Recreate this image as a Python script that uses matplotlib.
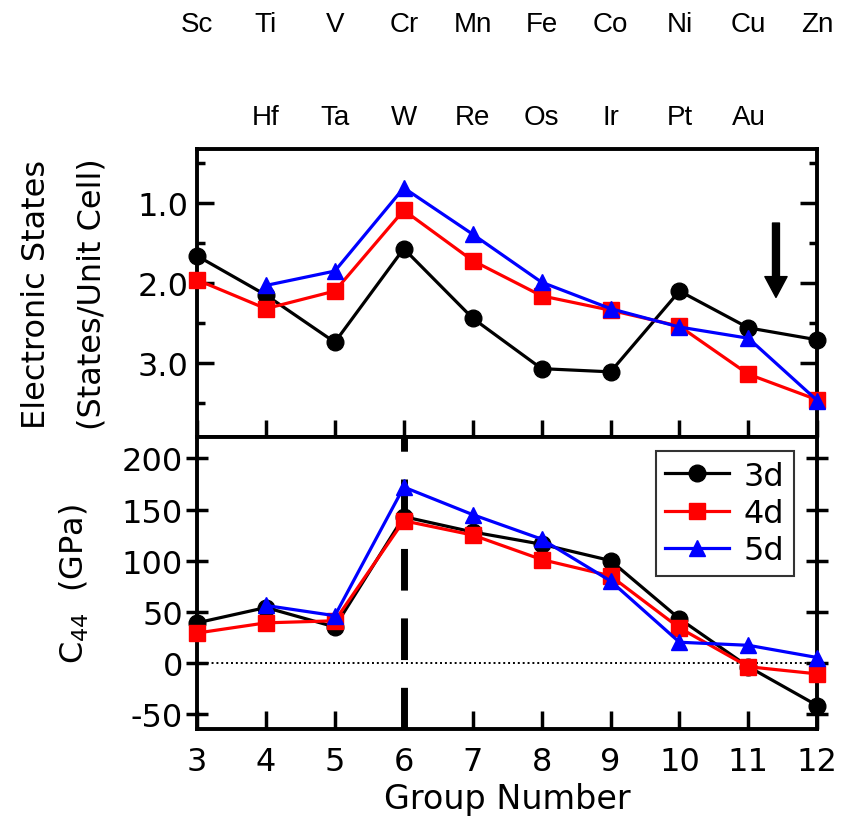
import matplotlib
matplotlib.use("Agg")
import matplotlib.pyplot as plt

plt.rcParams['font.family'] = ['DejaVu Sans']
plt.rcParams['axes.unicode_minus'] = False

groups = [3, 4, 5, 6, 7, 8, 9, 10, 11, 12]
elem_3d = ['Sc', 'Ti', 'V', 'Cr', 'Mn', 'Fe', 'Co', 'Ni', 'Cu', 'Zn']
groups_5d = [4, 5, 6, 7, 8, 9, 10, 11, 12]
elem_5d_labels = ['Hf', 'Ta', 'W', 'Re', 'Os', 'Ir', 'Pt', 'Au']
groups_5d_labels = [4, 5, 6, 7, 8, 9, 10, 11]

# Electronic states (States/Unit Cell)
es_3d = [1.66, 2.15, 2.74, 1.57, 2.44, 3.07, 3.11, 2.10, 2.56, 2.71]
es_4d = [1.96, 2.32, 2.10, 1.09, 1.72, 2.16, 2.34, 2.54, 3.14, 3.46]
es_5d = [2.03, 1.85, 0.81, 1.39, 1.99, 2.32, 2.55, 2.69, 3.47]

# C44 (GPa)
c44_3d = [39, 54, 35, 143, 128, 116, 100, 43, -4, -42]
c44_4d = [29, 39, 41, 139, 125, 101, 85, 34, -4, -11]
c44_5d = [56, 46, 172, 145, 121, 80, 20, 17, 5]

fig = plt.figure(figsize=(8.44, 8.29), dpi=100)
ax1 = fig.add_axes([0.2334, 0.4716, 0.735, 0.3474])
ax2 = fig.add_axes([0.2334, 0.1194, 0.735, 0.3522])

lw = 2.3
ms = 12
style = dict(lw=lw, ms=ms, clip_on=False, zorder=3)
ax1.plot(groups, es_3d, color='black', marker='o', **style)
ax1.plot(groups, es_4d, color='red', marker='s', **style)
ax1.plot(groups_5d, es_5d, color='blue', marker='^', **style)

ax2.plot(groups, c44_3d, color='black', marker='o', label='3d', **style)
ax2.plot(groups, c44_4d, color='red', marker='s', label='4d', **style)
ax2.plot(groups_5d, c44_5d, color='blue', marker='^', label='5d', **style)

ax2.axhline(0, color='black', lw=1.4, ls=(0, (1, 1.5)), zorder=1)
ax2.axvline(6, color='black', lw=5, ls=(0, (6, 4)), zorder=2)

# top panel
ax1.set_xlim(3, 12)
ax1.set_ylim(3.925, 0.325)
ax1.set_yticks([1.0, 2.0, 3.0])
ax1.set_yticklabels(['1.0', '2.0', '3.0'])
ax1.set_yticks([0.5, 1.5, 2.5, 3.5], minor=True)
ax1.set_xticks(groups)
ax1.tick_params(axis='x', which='both', bottom=True, top=False, labelbottom=False,
                direction='in', length=12, width=2.5)
ax1.tick_params(axis='y', which='major', left=True, right=True, direction='in',
                length=12, width=2.5, labelsize=23, pad=6)
ax1.tick_params(axis='y', which='minor', left=True, right=True, direction='in',
                length=6, width=2.5)
ax1.set_ylabel('Electronic States\n(States/Unit Cell)', fontsize=23, labelpad=22,
               linespacing=2.0)
ax1.annotate('', xy=(11.4, 2.18), xytext=(11.4, 1.25),
             arrowprops=dict(width=5, headwidth=16, headlength=15,
                             facecolor='black', edgecolor='black'))

# bottom panel
ax2.set_xlim(3, 12)
ax2.set_ylim(-65, 221)
ax2.set_yticks([-50, 0, 50, 100, 150, 200])
ax2.set_xticks(groups)
ax2.tick_params(axis='x', which='both', bottom=True, top=False, direction='in',
                length=13, width=2.5, labelsize=23, pad=12)
ax2.tick_params(axis='y', which='both', left=True, right=True, direction='inout',
                length=16, width=2.5, labelsize=23, pad=2)
ax2.set_ylabel('C$_{44}$  (GPa)', fontsize=23, labelpad=22)
ax2.set_xlabel('Group Number', fontsize=24, labelpad=4)

for ax in (ax1, ax2):
    for sp in ax.spines.values():
        sp.set_linewidth(2.8)

leg = ax2.legend(loc='upper right', bbox_to_anchor=(0.962, 0.952), fontsize=23,
                 frameon=True, fancybox=False, edgecolor='black',
                 handlelength=2.0, borderpad=0.3, labelspacing=0.2,
                 handletextpad=0.45, borderaxespad=0.0)
leg.get_frame().set_linewidth(1.5)

# element labels
for g, e in zip(groups, elem_3d):
    x = ax1.transData.transform((g, 0))[0]
    xf = fig.transFigure.inverted().transform((x, 0))[0]
    fig.text(xf, 1 - 25 / 829, e, ha='center', va='center', fontsize=20,
             family='Liberation Sans')
for g, e in zip(groups_5d_labels, elem_5d_labels):
    x = ax1.transData.transform((g, 0))[0]
    xf = fig.transFigure.inverted().transform((x, 0))[0]
    fig.text(xf, 1 - 118 / 829, e, ha='center', va='center', fontsize=20,
             family='Liberation Sans')

fig.savefig('out.png', dpi=100)
